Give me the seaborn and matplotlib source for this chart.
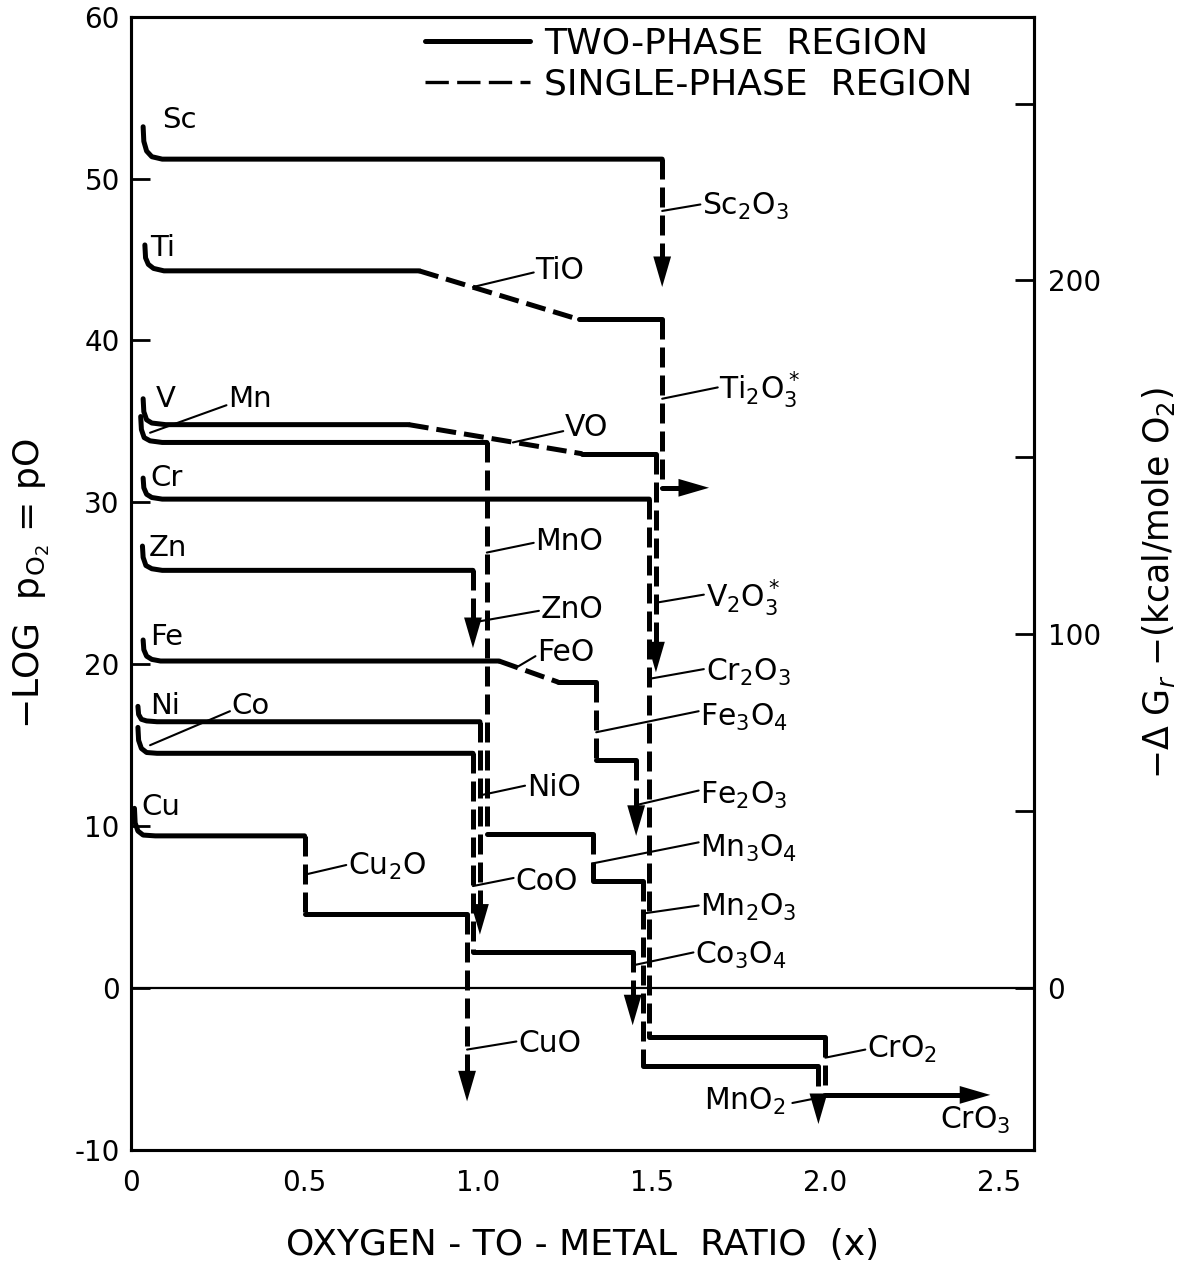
import numpy as np
import pandas as pd
import matplotlib
matplotlib.use('Agg')
import matplotlib.pyplot as plt
from matplotlib.lines import Line2D
import seaborn as sns

# 各金属の酸化曲線 (x = O/M 比, y = -log pO2)
# 相: T = 二相領域 (実線), S = 単相領域 (破線)
SC_X = [0.035, 0.037, 0.045, 0.06, 0.09, 1.53, 1.53]
SC_Y = [53.2, 52.3, 51.7, 51.35, 51.2, 51.2, 43.3]
SC_PH = 'TTTTTS'

TI_X = [0.04, 0.042, 0.05, 0.065, 0.095, 0.83, 1.29, 1.53, 1.53, 1.665]
TI_Y = [45.9, 45.1, 44.7, 44.45, 44.3, 44.3, 41.3, 41.3, 30.9, 30.9]
TI_PH = 'TTTTTSTST'

V_X = [0.035, 0.037, 0.045, 0.06, 0.1, 0.80, 1.30, 1.512, 1.512]
V_Y = [36.4, 35.6, 35.1, 34.9, 34.8, 34.8, 33.0, 33.0, 19.5]
V_PH = 'TTTTTSTS'

MN_X = [0.028, 0.03, 0.038, 0.055, 0.09, 1.025, 1.025, 1.33, 1.33, 1.474, 1.474, 1.98, 1.98]
MN_Y = [35.3, 34.5, 34.0, 33.8, 33.7, 33.7, 9.5, 9.5, 6.6, 6.6, -4.8, -4.8, -8.4]
MN_PH = 'TTTTTSTSTSTS'

CR_X = [0.035, 0.037, 0.045, 0.06, 0.09, 1.493, 1.493, 2.0, 2.0, 2.475]
CR_Y = [31.5, 30.9, 30.5, 30.3, 30.2, 30.2, -3.0, -3.0, -6.6, -6.6]
CR_PH = 'TTTTTSTST'

ZN_X = [0.033, 0.035, 0.043, 0.06, 0.09, 0.985, 0.985]
ZN_Y = [27.3, 26.6, 26.1, 25.9, 25.8, 25.8, 21.0]
ZN_PH = 'TTTTTS'

FE_X = [0.035, 0.037, 0.045, 0.06, 0.085, 1.06, 1.23, 1.34, 1.34, 1.455, 1.455]
FE_Y = [21.5, 20.9, 20.5, 20.3, 20.2, 20.2, 18.9, 18.9, 14.1, 14.1, 9.4]
FE_PH = 'TTTTTSTSTS'

NI_X = [0.02, 0.022, 0.03, 0.045, 0.075, 1.005, 1.005]
NI_Y = [17.4, 16.9, 16.6, 16.5, 16.45, 16.45, 3.3]
NI_PH = 'TTTTTS'

CO_X = [0.02, 0.022, 0.03, 0.045, 0.075, 0.985, 0.985, 1.445, 1.445]
CO_Y = [16.1, 15.3, 14.8, 14.55, 14.5, 14.5, 2.2, 2.2, -2.3]
CO_PH = 'TTTTTSTS'

CU_X = [0.01, 0.012, 0.02, 0.035, 0.07, 0.5, 0.5, 0.968, 0.968]
CU_Y = [11.1, 10.2, 9.7, 9.45, 9.4, 9.4, 4.6, 4.6, -7.0]
CU_PH = 'TTTTTSTS'

# 金属名ラベル
METAL_NAMES = ['Sc', 'Ti', 'V', 'Mn', 'Cr', 'Zn', 'Fe', 'Ni', 'Co', 'Cu']
METAL_LX = [0.09, 0.055, 0.07, 0.28, 0.055, 0.05, 0.055, 0.055, 0.29, 0.03]
METAL_LY = [53.6, 45.7, 36.4, 36.4, 31.5, 27.2, 21.7, 17.4, 17.4, 11.2]
# Mn, Co の引き出し線
METAL_LEADERS = [((0.275, 36.0), (0.055, 34.3)), ((0.285, 17.1), (0.055, 15.0))]

# 酸化物ラベル (テキスト位置と引き出し線)
OX_TEXT = ['Sc$_2$O$_3$', 'TiO', 'Ti$_2$O$_3^*$', 'VO', 'V$_2$O$_3^*$', 'MnO', 'ZnO', 'FeO',
           'Cr$_2$O$_3$', 'Fe$_3$O$_4$', 'Fe$_2$O$_3$', 'NiO', 'CoO', 'Mn$_3$O$_4$',
           'Mn$_2$O$_3$', 'Co$_3$O$_4$', 'Cu$_2$O', 'CuO', 'CrO$_2$']
OX_X = [1.645, 1.165, 1.695, 1.25, 1.655, 1.165, 1.18, 1.17,
        1.655, 1.64, 1.64, 1.14, 1.107, 1.64, 1.64, 1.625, 0.625, 1.115, 2.12]
OX_Y = [48.3, 44.3, 37.0, 34.6, 24.1, 27.6, 23.4, 20.7,
        19.5, 16.7, 11.9, 12.4, 6.6, 8.6, 5.0, 2.0, 7.5, -3.4, -3.8]
OX_LEAD_FROM = [(1.53, 48.0), (0.985, 43.3), (1.53, 36.4), (1.1, 33.7), (1.512, 23.8), (1.025, 26.9),
                (0.99, 22.6), (1.11, 19.8), (1.493, 19.1), (1.34, 15.8), (1.455, 11.3), (1.005, 11.9),
                (0.985, 6.3), (1.33, 7.7), (1.474, 4.6), (1.445, 1.4), (0.5, 7.0), (0.968, -3.8),
                (2.0, -4.3)]
OX_LEAD_TO = [(1.64, 48.4), (1.16, 44.2), (1.69, 37.1), (1.245, 34.4), (1.65, 24.3), (1.16, 27.5),
              (1.175, 23.3), (1.165, 20.5), (1.65, 19.7), (1.635, 17.1), (1.635, 12.2), (1.135, 12.5),
              (1.102, 6.8), (1.635, 9.0), (1.635, 5.1), (1.62, 2.2), (0.62, 7.6), (1.11, -3.3),
              (2.115, -3.8)]

# MnO2 と CrO3 (引き出し線の向きが異なる)
MNO2_POS = (1.885, -7.0)
MNO2_LEAD = ((1.905, -7.1), (1.975, -6.8))
CRO3_POS = (2.33, -8.2)

# 右軸換算係数 (kcal/mole O2 per unit of -log pO2)
KCAL_PER_UNIT = 4.576

METALS = [('Sc', SC_X, SC_Y, SC_PH), ('Ti', TI_X, TI_Y, TI_PH), ('V', V_X, V_Y, V_PH),
          ('Mn', MN_X, MN_Y, MN_PH), ('Cr', CR_X, CR_Y, CR_PH), ('Zn', ZN_X, ZN_Y, ZN_PH),
          ('Fe', FE_X, FE_Y, FE_PH), ('Ni', NI_X, NI_Y, NI_PH), ('Co', CO_X, CO_Y, CO_PH),
          ('Cu', CU_X, CU_Y, CU_PH)]

# 矢印の頭の下に線が突き出ないよう、最後の点を少し手前で止める
TRIM_X, TRIM_Y = 0.045, 0.9

# 相ごとに折れ線を区切ってロング形式にする
rows = []
for name, xs, ys, ph in METALS:
    k = -1
    n = len(ph)
    for i, p in enumerate(ph):
        if i == 0 or p != ph[i - 1]:
            k += 1
            rows.append((name, f'{name}_{k}', p, xs[i], ys[i]))
        x1, y1 = xs[i + 1], ys[i + 1]
        if i == n - 1:
            x1 -= TRIM_X * np.sign(xs[i + 1] - xs[i])
            y1 -= TRIM_Y * np.sign(ys[i + 1] - ys[i])
        rows.append((name, f'{name}_{k}', p, x1, y1))
df = pd.DataFrame(rows, columns=['metal', 'seg', 'phase', 'x', 'y'])

# --- プロット部分 ---
sns.set_style('white')
plt.rcParams['font.family'] = ['DejaVu Sans']
plt.rcParams['mathtext.fontset'] = 'dejavusans'
plt.rcParams['text.color'] = 'black'
plt.rcParams['axes.labelcolor'] = 'black'
plt.rcParams['axes.edgecolor'] = 'black'
plt.rcParams['xtick.color'] = 'black'
plt.rcParams['ytick.color'] = 'black'

fig = plt.figure(figsize=(11.8, 12.82), dpi=100)
ax = fig.add_axes([0.111, 0.103, 0.765, 0.884])

sns.lineplot(data=df, x='x', y='y', units='seg', estimator=None, style='phase',
             dashes={'T': '', 'S': (4, 1.6)}, color='black', linewidth=3.6,
             sort=False, legend=False, ax=ax)

# 矢印
for name, xs, ys, ph in METALS:
    sx = np.sign(xs[-1] - xs[-2])
    sy = np.sign(ys[-1] - ys[-2])
    ax.annotate('', xy=(xs[-1], ys[-1]), xytext=(xs[-1] - 0.05 * sx, ys[-1] - 1.5 * sy),
                arrowprops=dict(arrowstyle='-|>,head_length=1.1,head_width=0.32',
                                mutation_scale=20, color='black', lw=0,
                                shrinkA=0, shrinkB=0))

ax.axhline(0, color='black', lw=1.6)

# ラベル
for t, x, y in zip(METAL_NAMES, METAL_LX, METAL_LY):
    ax.text(x, y, t, fontsize=21, ha='left', va='center')
for (x0, y0), (x1, y1) in METAL_LEADERS:
    ax.plot([x0, x1], [y0, y1], color='black', lw=1.5)

for t, x, y, p0, p1 in zip(OX_TEXT, OX_X, OX_Y, OX_LEAD_FROM, OX_LEAD_TO):
    ax.text(x, y, t, fontsize=21.5, ha='left', va='center')
    ax.plot([p0[0], p1[0]], [p0[1], p1[1]], color='black', lw=1.5)

ax.text(MNO2_POS[0], MNO2_POS[1], 'MnO$_2$', fontsize=21.5, ha='right', va='center')
ax.plot([MNO2_LEAD[0][0], MNO2_LEAD[1][0]], [MNO2_LEAD[0][1], MNO2_LEAD[1][1]], color='black', lw=1.5)
ax.text(CRO3_POS[0], CRO3_POS[1], 'CrO$_3$', fontsize=21.5, ha='left', va='center')

# 凡例
handles = [Line2D([], [], color='black', lw=3.6),
           Line2D([], [], color='black', lw=2.4, dashes=(7, 2.5))]
ax.legend(handles, ['TWO-PHASE  REGION', 'SINGLE-PHASE  REGION'], loc='upper left',
          bbox_to_anchor=(0.318, 0.998), frameon=False, fontsize=26, handlelength=2.9,
          handletextpad=0.4, labelspacing=0.2, borderpad=0.2, borderaxespad=0.0)

# 軸
ax.set_xlim(0, 2.6)
ax.set_ylim(-10, 60)
ax.set_xticks([0, 0.5, 1.0, 1.5, 2.0, 2.5])
ax.set_xticklabels(['0', '0.5', '1.0', '1.5', '2.0', '2.5'])
ax.set_yticks(range(-10, 61, 10))
ax.set_yticklabels(['-10'] + [str(v) for v in range(0, 61, 10)])
ax.tick_params(direction='in', length=14, width=2, labelsize=20, pad=8)
ax.tick_params(axis='x', pad=14)
ax.set_xlabel('OXYGEN - TO - METAL  RATIO  (x)', fontsize=26, labelpad=22)
ax.set_ylabel(r'$-$LOG  p$_{\mathrm{O_2}}$ = pO', fontsize=26, labelpad=16)
for s in ax.spines.values():
    s.set_linewidth(2.2)

ax2 = ax.twinx()
ax2.set_ylim(-10 * KCAL_PER_UNIT, 60 * KCAL_PER_UNIT)
ax2.set_yticks([0, 50, 100, 150, 200, 250])
ax2.set_yticklabels(['0', '', '100', '', '200', ''])
ax2.tick_params(direction='in', length=14, width=2, labelsize=20, pad=10)
ax2.set_ylabel(r'$-\Delta$ G$_r$ $-$(kcal/mole O$_2$)', fontsize=25, labelpad=28)
for s in ax2.spines.values():
    s.set_linewidth(2.2)

plt.savefig('out.png', dpi=100)
